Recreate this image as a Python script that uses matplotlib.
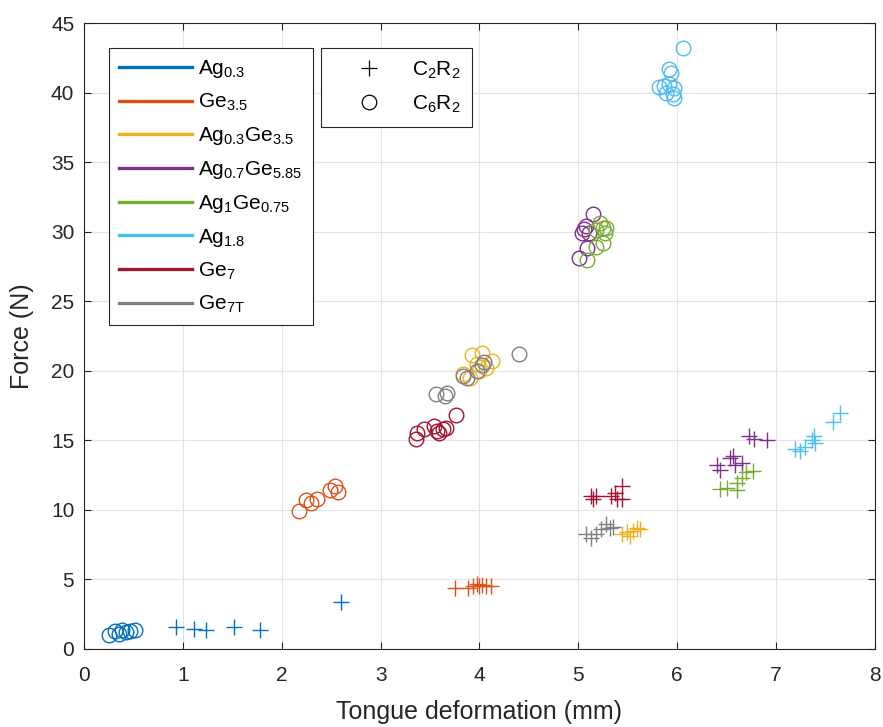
import numpy as np
import matplotlib
matplotlib.use('Agg')
import matplotlib.pyplot as plt
from matplotlib.lines import Line2D

plt.rcParams['font.family'] = ['Liberation Sans', 'DejaVu Sans']
plt.rcParams['mathtext.fontset'] = 'custom'
plt.rcParams['mathtext.rm'] = 'Liberation Sans'
plt.rcParams['mathtext.it'] = 'Liberation Sans'

# series names and colours
names = [r'Ag$_{0.3}$', r'Ge$_{3.5}$', r'Ag$_{0.3}$Ge$_{3.5}$', r'Ag$_{0.7}$Ge$_{5.85}$',
         r'Ag$_{1}$Ge$_{0.75}$', r'Ag$_{1.8}$', r'Ge$_{7}$', r'Ge$_{7T}$']
colors = ['#0072BD', '#D95319', '#EDB120', '#7E2F8E', '#77AC30', '#4DBEEE', '#A2142F', '#808080']

# C2R2 (crosses)
c2_x = [
    [0.93, 1.11, 1.23, 1.52, 1.78, 2.60],
    [3.75, 3.88, 3.93, 3.97, 4.00, 4.03, 4.07, 4.12],
    [5.44, 5.49, 5.52, 5.55, 5.59, 5.62],
    [6.40, 6.43, 6.53, 6.56, 6.58, 6.66, 6.73, 6.78, 6.91],
    [6.43, 6.50, 6.60, 6.60, 6.66, 6.70, 6.77],
    [7.19, 7.24, 7.29, 7.36, 7.38, 7.39, 7.58, 7.65],
    [5.13, 5.15, 5.18, 5.33, 5.37, 5.39, 5.44, 5.44],
    [5.08, 5.13, 5.18, 5.23, 5.28, 5.32, 5.35],
]
c2_y = [
    [1.6, 1.45, 1.35, 1.6, 1.35, 3.4],
    [4.4, 4.4, 4.5, 4.7, 4.5, 4.6, 4.5, 4.5],
    [8.3, 8.4, 8.1, 8.5, 8.7, 8.6],
    [13.2, 12.9, 13.7, 13.9, 13.2, 13.4, 15.3, 15.1, 15.0],
    [11.5, 11.6, 11.4, 11.9, 12.3, 12.7, 12.8],
    [14.4, 14.2, 14.5, 15.0, 15.3, 14.8, 16.3, 17.0],
    [11.0, 10.8, 11.0, 11.0, 11.2, 10.8, 11.7, 10.8],
    [8.3, 8.0, 8.3, 8.6, 9.0, 8.7, 8.8],
]

# C6R2 (circles)
c6_x = [
    [0.25, 0.31, 0.35, 0.38, 0.42, 0.47, 0.52],
    [2.17, 2.25, 2.30, 2.36, 2.49, 2.54, 2.57],
    [3.83, 3.90, 3.92, 3.97, 4.00, 4.03, 4.07, 4.13],
    [5.01, 5.04, 5.06, 5.08, 5.09, 5.11, 5.15],
    [5.09, 5.18, 5.18, 5.22, 5.25, 5.25, 5.27, 5.28],
    [5.82, 5.87, 5.89, 5.92, 5.92, 5.94, 5.96, 5.97, 5.97, 6.06],
    [3.36, 3.37, 3.44, 3.54, 3.57, 3.59, 3.63, 3.66, 3.76],
    [3.56, 3.65, 3.67, 3.83, 3.87, 3.97, 4.03, 4.05, 4.40],
]
c6_y = [
    [1.0, 1.3, 1.1, 1.4, 1.2, 1.3, 1.35],
    [9.9, 10.7, 10.5, 10.8, 11.4, 11.7, 11.3],
    [19.8, 19.5, 21.1, 20.5, 20.0, 21.3, 20.2, 20.7],
    [28.1, 29.9, 30.2, 30.4, 28.8, 29.9, 31.3],
    [28.0, 30.1, 28.9, 30.6, 30.3, 29.2, 29.9, 30.3],
    [40.4, 40.5, 40.0, 40.6, 41.7, 41.4, 39.9, 40.3, 39.6, 43.2],
    [15.1, 15.5, 15.8, 16.0, 15.7, 15.5, 15.8, 15.9, 16.8],
    [18.3, 18.2, 18.4, 19.6, 19.5, 20.0, 20.4, 20.6, 21.2],
]

fig = plt.figure(figsize=(8.83, 7.27), dpi=100)
ax = fig.add_axes([0.0951, 0.1073, 0.8958, 0.861])

for i in range(len(names)):
    ax.plot(c2_x[i], c2_y[i], linestyle='none', marker='+', markersize=11,
            markeredgewidth=1.0, color=colors[i])
    ax.plot(c6_x[i], c6_y[i], linestyle='none', marker='o', markersize=10.5,
            markeredgewidth=1.0, markerfacecolor='none', color=colors[i])

ax.set_xlim(0, 8)
ax.set_ylim(0, 45)
ax.set_xticks(np.arange(0, 9, 1))
ax.set_yticks(np.arange(0, 50, 5))
ax.grid(True, color='#e3e3e3', linewidth=0.8)
ax.set_axisbelow(True)
ax.tick_params(direction='in', labelsize=15, length=5, colors='#262626',
               top=True, right=True)
ax.tick_params(axis='x', pad=12)
ax.tick_params(axis='y', pad=7)
for s in ax.spines.values():
    s.set_color('#262626')
    s.set_linewidth(0.8)
ax.set_xlabel('Tongue deformation (mm)', fontsize=18, color='#262626', labelpad=11)
ax.set_ylabel('Force (N)', fontsize=18, color='#262626', labelpad=12)

handles1 = [Line2D([], [], color=c, linewidth=2.4) for c in colors]
leg1 = ax.legend(handles1, names, loc='upper left', bbox_to_anchor=(0.0316, 0.960),
                 fontsize=15, handlelength=3.5, handletextpad=0.3, labelspacing=0.57,
                 borderpad=0.48, borderaxespad=0, fancybox=False,
                 edgecolor='#262626', framealpha=1)
leg1.get_frame().set_linewidth(0.8)
ax.add_artist(leg1)

handles2 = [Line2D([], [], linestyle='none', marker='+', markersize=11, color='k', markeredgewidth=0.9),
            Line2D([], [], linestyle='none', marker='o', markersize=10.5, color='k',
                   markerfacecolor='none', markeredgewidth=0.9)]
leg2 = ax.legend(handles2, [r'C$_{2}$R$_{2}$', r'C$_{6}$R$_{2}$'], loc='upper left',
                 bbox_to_anchor=(0.2996, 0.960), fontsize=15, handlelength=3.5,
                 handletextpad=0.3, labelspacing=0.62, borderpad=0.55, borderaxespad=0,
                 fancybox=False, edgecolor='#262626', framealpha=1)
leg2.get_frame().set_linewidth(0.8)

fig.savefig('out.png', dpi=100)
